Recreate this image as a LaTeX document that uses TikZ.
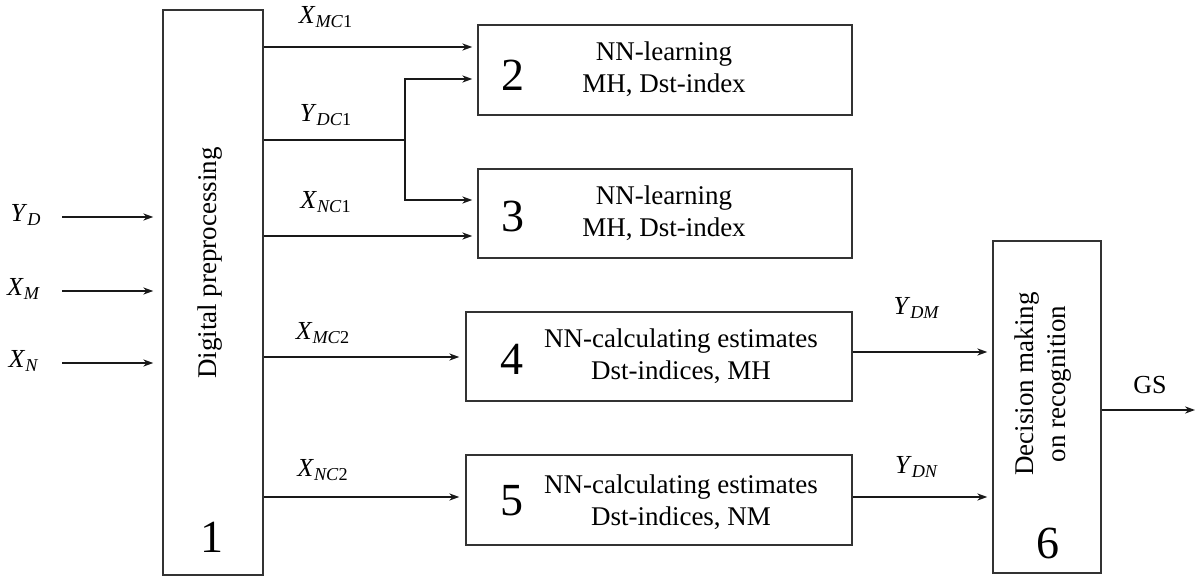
\documentclass[tikz,border=0pt]{standalone}
\usepackage{fontspec}
\setmainfont{Liberation Serif}
\usetikzlibrary{arrows.meta}
\begin{document}
\begin{tikzpicture}[x=0.5pt,y=-0.5pt,
  box/.style={draw=black!80,line width=0.75pt,inner sep=0pt},
  txt/.style={font=\fontsize{13.5}{16}\selectfont,align=center,inner sep=0pt},
  lbl/.style={font=\fontsize{13}{15}\selectfont,inner sep=0pt},
  num/.style={font=\fontsize{23}{26}\selectfont,inner sep=0pt},
  ln/.style={line width=0.6pt,draw=black!90},
  arr/.style={ln,-{Stealth[length=5pt,width=3.6pt]}}]
\useasboundingbox (0,0) rectangle (1195,576);
% boxes
\node[box,minimum width=50pt,minimum height=282.5pt] (b1) at (213,292.5) {};
\node[box,minimum width=187pt,minimum height=45pt] (b2) at (665,70) {};
\node[box,minimum width=187pt,minimum height=44.5pt] (b3) at (665,213.5) {};
\node[box,minimum width=193pt,minimum height=44.5pt] (b4) at (659,356.5) {};
\node[box,minimum width=193pt,minimum height=45pt] (b5) at (659,500) {};
\node[box,minimum width=54pt,minimum height=166pt] (b6) at (1047,407) {};
% box texts
\node[txt,rotate=90] (t1) at (210,263) {Digital preprocessing};
\node[num] (n1) at (212,537) {1};
\node[txt] (t2) at (664,69) {NN-learning\\MH, Dst-index};
\node[num] (n2) at (513,75) {2};
\node[txt] (t3) at (664,213) {NN-learning\\MH, Dst-index};
\node[num] (n3) at (513,217) {3};
\node[txt] (t4) at (681,356) {NN-calculating estimates\\Dst-indices, MH};
\node[num] (n4) at (512,359) {4};
\node[txt] (t5) at (681,502) {NN-calculating estimates\\Dst-indices, NM};
\node[num] (n5) at (512,501) {5};
\node[txt,rotate=90] (t6) at (1043,384) {Decision making\\on recognition};
\node[num] (n6) at (1048,543) {6};
% inputs
\coordinate (iy) at (62,217);
\coordinate (ixm) at (62,291);
\coordinate (ixn) at (62,363);
\node[lbl] (lyd) at (26,215) {\textit{Y}\textsubscript{\textit{D}}};
\node[lbl] (lxm) at (24,289) {\textit{X}\textsubscript{\textit{M}}};
\node[lbl] (lxn) at (24,361) {\textit{X}\textsubscript{\textit{N}}};
\draw[arr,shorten >=4.5pt] (iy) -- (iy -| b1.west);
\draw[arr,shorten >=4.5pt] (ixm) -- (ixm -| b1.west);
\draw[arr,shorten >=4.5pt] (ixn) -- (ixn -| b1.west);
% outputs of block 1
\coordinate (c1) at (0,47);
\coordinate (c2) at (0,79);
\coordinate (c3) at (0,140);
\coordinate (c4) at (0,200);
\coordinate (c5) at (0,236);
\coordinate (c6) at (0,357);
\coordinate (c7) at (0,497);
\coordinate (split) at (405,140);
\draw[arr,shorten >=2.5pt] (c1 -| b1.east) -- (c1 -| b2.west);
\draw[ln] (c3 -| b1.east) -- (split);
\draw[arr,shorten >=2.5pt] (split) |- (c2 -| b2.west);
\draw[arr,shorten >=2.5pt] (split) |- (c4 -| b3.west);
\draw[arr,shorten >=2.5pt] (c5 -| b1.east) -- (c5 -| b3.west);
\draw[arr,shorten >=3pt] (c6 -| b1.east) -- (c6 -| b4.west);
\draw[arr,shorten >=3pt] (c7 -| b1.east) -- (c7 -| b5.west);
\node[lbl] (lxmc1) at (326,17) {\textit{X}\textsubscript{\textit{MC}1}};
\node[lbl] (lydc1) at (326,115) {\textit{Y}\textsubscript{\textit{DC}1}};
\node[lbl] (lxnc1) at (326,202) {\textit{X}\textsubscript{\textit{NC}1}};
\node[lbl] (lxmc2) at (323,333) {\textit{X}\textsubscript{\textit{MC}2}};
\node[lbl] (lxnc2) at (323,470) {\textit{X}\textsubscript{\textit{NC}2}};
% to block 6
\coordinate (d1) at (0,352);
\coordinate (d2) at (0,497);
\draw[arr,shorten >=2.5pt] (d1 -| b4.east) -- (d1 -| b6.west);
\draw[arr,shorten >=2.5pt] (d2 -| b5.east) -- (d2 -| b6.west);
\node[lbl] (lydm) at (917,308) {\textit{Y}\textsubscript{\textit{DM}}};
\node[lbl] (lydn) at (917,467) {\textit{Y}\textsubscript{\textit{DN}}};
% output
\coordinate (gsend) at (1195,410);
\draw[arr] (gsend -| b6.east) -- (gsend);
\node[lbl] (lgs) at (1150,385) {GS};
\end{tikzpicture}
\end{document}
